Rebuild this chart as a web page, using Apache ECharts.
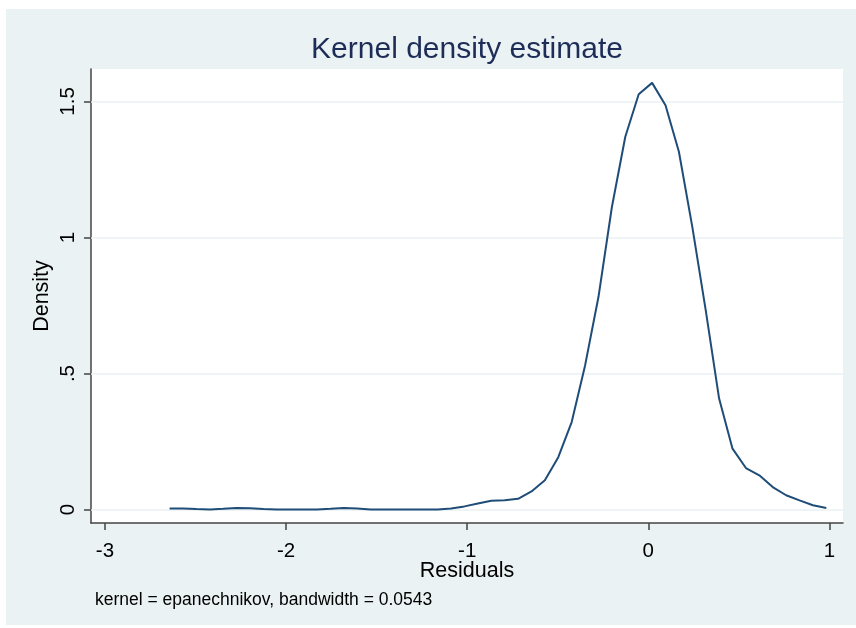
<!DOCTYPE html>
<html>
<head>
<meta charset="utf-8">
<script src="https://cdn.jsdelivr.net/npm/echarts@6/dist/echarts.min.js"></script>
<style>
html, body { margin: 0; padding: 0; background: #fff; }
#chart { width: 856px; height: 628px; }
</style>
</head>
<body>
<div id="chart"></div>
<script>
// residual grid points (x) and kernel density estimate (y)
var residuals = [-2.643, -2.569, -2.495, -2.421, -2.347, -2.273, -2.199, -2.125, -2.051, -1.977,
	-1.903, -1.829, -1.755, -1.681, -1.607, -1.533, -1.459, -1.385, -1.311, -1.237,
	-1.163, -1.089, -1.015, -0.941, -0.867, -0.793, -0.719, -0.645, -0.571, -0.497,
	-0.423, -0.349, -0.275, -0.201, -0.127, -0.053, 0.021, 0.095, 0.169, 0.243,
	0.317, 0.391, 0.465, 0.539, 0.613, 0.687, 0.761, 0.835, 0.909, 0.983]
var density = [0.004, 0.004, 0.002, 0.001, 0.003, 0.006, 0.005, 0.002, 0.001, 0.001,
	0.001, 0.001, 0.003, 0.006, 0.004, 0.001, 0.001, 0.001, 0.001, 0.001,
	0.001, 0.004, 0.012, 0.023, 0.033, 0.035, 0.040, 0.067, 0.108, 0.193,
	0.322, 0.530, 0.782, 1.112, 1.370, 1.526, 1.568, 1.486, 1.315, 1.039,
	0.733, 0.408, 0.224, 0.153, 0.126, 0.083, 0.053, 0.034, 0.016, 0.006]

var xTicks = [-3, -2, -1, 0, 1]
var yTicks = [0, 0.5, 1, 1.5]
var yTickLabels = ['0', '.5', '1', '1.5']

var chart = echarts.init(document.getElementById('chart'))

var points = residuals.map(function(x, i) { return [x, density[i]] })

var option = {
	backgroundColor: '#ffffff',
	animation: false,
	textStyle: { fontFamily: 'Liberation Sans, Arial, sans-serif' },
	graphic: [{
		type: 'rect',
		z: -100,
		shape: { x: 6, y: 9, width: 850, height: 616 },
		style: { fill: '#eaf2f3' }
	}, {
		type: 'text',
		left: 95,
		top: 591,
		style: {
			text: 'kernel = epanechnikov, bandwidth = 0.0543',
			font: '17.5px "Liberation Sans", Arial, sans-serif',
			fill: '#000000'
		}
	}],
	title: {
		text: 'Kernel density estimate',
		left: 462,
		textAlign: 'center',
		top: 30,
		textStyle: {
			fontSize: 30,
			fontWeight: 'normal',
			color: '#1e2d57',
			fontFamily: 'Liberation Sans, Arial, sans-serif'
		}
	},
	grid: {
		left: 91,
		right: 13,
		top: 69,
		bottom: 105,
		show: true,
		backgroundColor: '#ffffff',
		borderWidth: 0
	},
	xAxis: {
		type: 'value',
		min: -3.077,
		max: 1.075,
		name: 'Residuals',
		nameLocation: 'middle',
		nameGap: 37,
		nameMoveOverlap: false,
		nameTextStyle: { fontSize: 21.5, color: '#000' },
		axisLine: { show: true, onZero: false, lineStyle: { color: '#444', width: 1.5 } },
		axisTick: { show: true, length: 7, customValues: xTicks, lineStyle: { color: '#444', width: 1.5 } },
		axisLabel: {
			customValues: xTicks,
			fontSize: 20.5,
			color: '#000',
			margin: 18,
			formatter: function(v) { return String(v) }
		},
		splitLine: { show: false }
	},
	yAxis: {
		type: 'value',
		min: -0.049,
		max: 1.619,
		name: 'Density',
		nameLocation: 'middle',
		nameRotate: 90,
		nameGap: 38,
		nameMoveOverlap: false,
		nameTextStyle: { fontSize: 21.5, color: '#000' },
		axisLine: { show: true, onZero: false, lineStyle: { color: '#444', width: 1.5 } },
		axisTick: { show: true, length: 7, customValues: yTicks, lineStyle: { color: '#444', width: 1.5 } },
		axisLabel: {
			customValues: yTicks,
			rotate: 90,
			fontSize: 20.5,
			color: '#000',
			margin: 12,
			formatter: function(v) { return yTickLabels[yTicks.indexOf(v)] }
		},
		splitLine: { show: false }
	},
	series: [{
		type: 'line',
		data: points,
		showSymbol: false,
		smooth: false,
		lineStyle: { color: '#1f4d78', width: 2 },
		markLine: {
			silent: true,
			symbol: 'none',
			label: { show: false },
			lineStyle: { color: '#eaf2f3', width: 1.5, type: 'solid' },
			z: 1,
			data: yTicks.map(function(v) { return { yAxis: v } })
		}
	}]
}

chart.setOption(option)
</script>
</body>
</html>
